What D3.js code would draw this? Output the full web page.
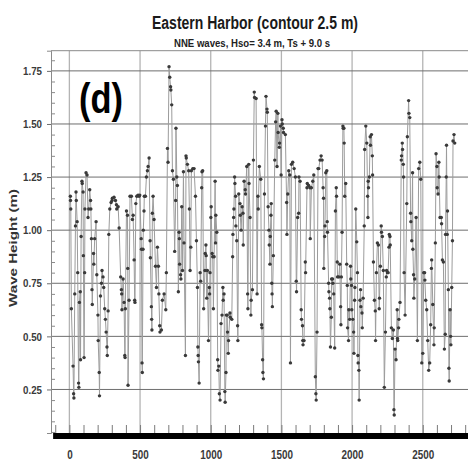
<!DOCTYPE html>
<html>
<head>
<meta charset="utf-8">
<script src="https://cdn.jsdelivr.net/npm/d3@7/dist/d3.min.js"></script>
<style>
  body { margin: 0; background: #fff; }
  #chart text { font-family: "Liberation Sans", Arial, sans-serif; }
</style>
</head>
<body>
<div id="chart"></div>
<script>
// labels
const titleText = 'Eastern Harbor (contour 2.5 m)';
const subtitleText = 'NNE waves, Hso= 3.4 m, Ts + 9.0 s';
const panelTag = '(d)';
const yLabel = 'Wave Height (m)';
const xTickValues = [0, 500, 1000, 1500, 2000, 2500];
const yTickValues = [0.25, 0.5, 0.75, 1.0, 1.25, 1.5, 1.75];

// series (time, wave height in m)
const timesA = [7,8,10,14,26,30,32,38,43,47,49,55,59,65,67,71,77,79,83,89,91,97,99,104,108,110,118,125,132,137,144,150,152,156,160,162,171,173,179,189,194,202,204,211,213,220,227,231,238,243,250,255,260,266,268,274,279,286,295];
const heightsA = [1.16,1.14,1.10,0.63,0.36,0.23,0.21,0.70,1.02,1.18,1.14,1.04,0.80,0.28,0.26,0.66,0.71,0.39,0.97,1.23,1.22,1.18,0.88,0.40,0.80,1.10,1.27,1.26,1.06,1.10,1.19,1.14,1.10,0.96,0.72,0.65,0.89,0.84,0.96,1.04,0.79,0.60,0.48,0.33,0.22,0.69,0.75,0.81,0.78,0.73,0.63,0.58,0.52,0.45,0.41,0.62,0.98,1.10,1.13];

const timesB = [302,304,316,326,333,335,345,352,363,368,370,372,380,387,392,394,396,404,411,413,415,422,429,439,446,451,458,462,464,470,477,486,493,498,508,510,514,516,521,523,528,530,538,545,552,557,564,571,573,580,582,584,587,592,599,609,616,623];
const heightsB = [1.14,1.15,1.155,1.14,1.12,1.10,1.11,1.01,0.78,0.72,0.70,0.625,0.77,0.66,0.41,0.40,0.63,1.09,1.07,0.82,0.27,0.67,1.16,1.16,1.05,1.07,0.86,0.67,0.66,1.125,1.16,1.165,1.16,1.165,0.96,0.91,0.375,0.33,0.91,1.0,1.09,1.16,1.16,1.25,1.28,1.30,1.34,0.95,0.87,0.64,0.58,0.53,1.08,1.16,1.05,0.83,0.73,0.92];

const timesC = [630,633,639,641,651,658,670,682,686,694,698,705,710,716,718,724,729,736,745,752,754,760,764,771,776,778,780,787,789,795,800,807,811,821,825,827,835,844,849,854,859,863,873,882,892,899,906,909,911,913,918,925,929,936,938,943,950];
const heightsC = [0.83,0.70,0.55,0.52,0.53,0.67,0.70,0.625,0.80,1.385,1.32,1.77,1.72,1.675,1.66,1.59,1.28,1.24,0.90,1.14,1.48,1.25,1.21,0.71,0.99,0.96,0.84,0.79,0.77,1.11,0.81,1.275,0.94,0.41,1.35,1.34,1.31,1.28,1.10,0.81,0.92,1.28,1.29,1.29,1.16,0.95,0.73,0.45,0.41,0.38,0.28,0.80,0.76,1.20,1.275,1.28,0.63];

const timesD = [959,961,966,968,972,976,984,990,992,995,1001,1003,1010,1014,1019,1024,1031,1034,1036,1043,1049,1051,1057,1061,1066,1073,1080,1086,1088,1094,1100,1102,1108,1110,1117,1119,1124,1126,1136,1138,1149,1155,1157,1162,1164,1169,1171,1176,1178,1184,1190,1192,1198,1207,1209,1215,1222,1228,1230,1236,1244,1246,1255,1261,1263,1269];
const heightsD = [0.81,0.89,0.93,0.88,0.68,0.81,0.48,0.73,0.70,0.80,1.06,1.11,0.89,0.875,0.63,0.875,1.23,0.94,1.07,0.99,0.39,0.34,0.36,0.23,0.20,0.56,0.60,0.73,0.67,0.70,0.24,0.19,0.33,0.60,0.60,0.52,0.42,0.48,0.61,0.59,0.58,0.875,0.98,1.06,1.10,1.25,1.22,1.16,1.02,0.95,0.55,0.48,1.17,1.125,1.07,1.0,1.11,1.08,0.93,1.23,1.19,1.17,1.30,0.70,0.63,1.31];

const timesE = [1271,1278,1284,1286,1295,1302,1308,1310,1321,1328,1334,1336,1344,1354,1360,1362,1367,1369,1373,1380,1387,1391,1398,1400,1406,1412,1414,1419,1421,1426,1428,1432,1434,1436,1443,1453,1459,1463,1469,1475,1477,1485,1487,1493,1498,1504,1506,1513,1515,1528,1537,1539,1545,1552,1559,1564,1571,1580,1590];
const heightsE = [1.22,1.06,0.60,0.67,0.72,1.33,1.65,1.625,1.62,0.70,1.16,1.10,1.30,1.24,0.555,0.54,0.39,0.33,0.30,1.17,1.49,1.63,1.57,1.555,1.11,1.0,0.93,0.84,0.97,1.07,1.125,0.75,0.70,0.64,0.88,1.33,1.51,1.56,1.30,1.55,1.46,1.39,1.41,1.49,1.26,1.52,1.50,1.48,1.46,1.45,1.13,0.98,1.17,1.28,1.26,0.375,1.31,1.32,1.29];

const timesF = [1599,1605,1607,1615,1622,1624,1632,1640,1642,1649,1651,1653,1660,1669,1671,1681,1683,1693,1702,1704,1712,1722,1729,1740,1744,1746,1752,1759,1764,1773,1781,1788,1795,1798,1800,1806,1808,1814,1821,1824,1826,1834,1836,1841,1843,1847,1853,1855,1862,1864,1870,1877,1882,1888,1890,1895,1897,1906,1913,1919,1921,1924];
const heightsF = [1.25,0.76,0.71,1.06,1.08,1.25,1.23,0.625,0.58,0.55,0.48,0.46,0.48,0.85,0.80,1.20,1.22,1.21,1.20,0.96,1.20,1.23,1.26,0.31,0.23,0.20,0.52,1.29,1.29,1.33,1.35,1.33,1.20,1.15,0.82,0.97,1.02,1.27,1.28,1.04,0.99,0.75,0.71,0.68,0.63,0.45,0.59,0.77,0.77,0.75,0.70,0.445,1.09,1.20,1.16,0.85,0.78,0.78,0.84,0.64,0.555,0.78];

const timesG = [1929,1935,1937,1942,1944,1948,1955,1962,1966,1968,1975,1977,1983,1989,1991,1996,1998,2005,2011,2013,2018,2020,2026,2033,2038,2041,2043,2048,2050,2056,2060,2062,2070,2072,2078,2086,2089,2097,2104,2110,2112,2114,2116,2122,2128,2130,2137,2143,2145,2151,2158,2164,2166,2172,2179,2186,2192,2194,2200,2206,2208,2214,2221,2228,2236,2242,2244,2250];
const heightsG = [0.99,1.49,1.48,1.48,1.41,1.16,1.22,0.84,0.74,0.54,0.48,0.625,0.58,0.83,0.77,0.74,0.625,0.58,0.52,0.42,0.67,0.73,1.10,0.945,0.80,0.41,0.375,0.34,0.20,0.67,0.72,0.64,0.61,0.54,0.68,1.02,1.38,1.49,1.41,1.16,1.06,1.23,1.20,1.25,1.44,1.40,1.45,1.35,1.26,0.85,0.67,0.62,0.48,0.80,0.94,0.93,0.63,0.68,0.83,1.02,0.99,0.97,0.81,0.26,0.52,0.78,0.81,0.80];

const timesH = [2255,2261,2263,2268,2270,2278,2285,2292,2296,2298,2304,2311,2319,2321,2323,2329,2331,2339,2348,2350,2355,2357,2362,2364,2368,2375,2387,2391,2400,2402,2408,2414,2416,2422,2428,2430,2435,2437,2443,2453,2462,2471,2479,2486,2493,2500,2507,2513,2515,2521,2528,2535,2542];
const heightsH = [0.80,0.92,0.98,0.97,0.93,0.54,0.49,0.53,0.155,0.13,0.44,0.39,0.625,0.49,0.48,0.54,0.58,0.66,1.33,1.35,1.41,1.38,1.31,1.25,0.80,0.60,1.125,1.44,1.61,1.55,1.53,1.08,1.04,0.95,1.27,0.91,0.79,0.68,0.77,1.06,0.48,1.29,1.32,1.24,0.375,0.42,0.80,0.80,0.765,0.67,0.625,0.48,0.34];

const timesI = [2549,2556,2561,2563,2571,2579,2581,2589,2594,2600,2602,2608,2614,2616,2622,2631,2633,2639,2646,2653,2659,2661,2666,2668,2673,2675,2681,2685,2687,2693,2697,2699,2705,2710,2714,2721,2726];
const heightsI = [0.375,0.555,0.82,0.86,0.65,0.46,0.54,0.94,1.36,1.30,1.20,1.17,1.32,1.25,1.06,1.06,1.03,0.86,0.85,0.44,0.51,0.98,1.25,1.40,0.98,1.09,0.72,0.35,0.29,0.625,0.50,0.46,0.73,0.95,1.42,1.45,1.41];

const blocks = [
  [timesA, heightsA], [timesB, heightsB], [timesC, heightsC],
  [timesD, heightsD], [timesE, heightsE], [timesF, heightsF],
  [timesG, heightsG], [timesH, heightsH], [timesI, heightsI]
];
const series = blocks.flatMap(([t, h]) => d3.zip(t, h));

// setup
const width = 468, height = 461;
const plot = { left: 51, right: 468, top: 50.7, bottom: 433 };

const xScale = d3.scaleLinear()
  .domain([-130, 2820])
  .range([plot.left, plot.right]);

const yScale = d3.scaleLinear()
  .domain([0.045, 1.845])
  .range([plot.bottom, plot.top]);

const svg = d3.select('#chart').append('svg')
  .attr('width', width)
  .attr('height', height);

svg.append('defs').append('clipPath')
  .attr('id', 'plotClip')
  .append('rect')
    .attr('x', plot.left)
    .attr('y', plot.top)
    .attr('width', plot.right - plot.left)
    .attr('height', plot.bottom - plot.top);

// narrow-looking labels: squeeze text to the width seen in the picture
const labelWidth = s => s.replace(/[^0-9]/g, '').length * 5.5 + (s.includes('.') ? 2.5 : 0);

// vertical grid
svg.append('g')
  .selectAll('line')
  .data(xTickValues)
  .join('line')
    .attr('x1', d => xScale(d))
    .attr('x2', d => xScale(d))
    .attr('y1', plot.top)
    .attr('y2', plot.bottom)
    .attr('stroke', '#b4b4b4')
    .attr('stroke-width', 1.3);

// horizontal grid
svg.append('g')
  .selectAll('line')
  .data(yTickValues)
  .join('line')
    .attr('x1', plot.left)
    .attr('x2', plot.right)
    .attr('y1', d => yScale(d))
    .attr('y2', d => yScale(d))
    .attr('stroke', '#6e6e6e')
    .attr('stroke-width', 1);

// top frame line
svg.append('line')
  .attr('x1', plot.left).attr('x2', plot.right)
  .attr('y1', plot.top).attr('y2', plot.top)
  .attr('stroke', '#8a8a8a');

// y-axis (major ticks outward, minor ticks inward)
const yAxis = d3.axisLeft(yScale)
  .tickValues(yTickValues)
  .tickSize(4)
  .tickPadding(5)
  .tickFormat(d3.format('.2f'));

const yAxisG = svg.append('g')
  .attr('transform', `translate(${ plot.left }, 0)`)
  .call(yAxis);
yAxisG.select('.domain').attr('stroke', '#8a8a8a');
yAxisG.selectAll('.tick line').attr('stroke', '#6e6e6e');
yAxisG.selectAll('.tick text')
  .attr('font-size', 11.5)
  .attr('font-weight', 'bold')
  .attr('fill', '#3a3a3a')
  .attr('textLength', d => labelWidth(d3.format('.2f')(d)))
  .attr('lengthAdjust', 'spacingAndGlyphs');

const yMinor = d3.range(0.05, 1.81, 0.05).filter(v => Math.abs(v / 0.25 - Math.round(v / 0.25)) > 1e-6);
svg.append('g')
  .attr('transform', `translate(${ plot.left }, 0)`)
  .call(d3.axisRight(yScale).tickValues(yMinor).tickSize(4).tickFormat(''))
  .call(g => g.select('.domain').remove())
  .selectAll('.tick line').attr('stroke', '#8a8a8a');

// line + markers
const line = d3.line()
  .x(d => xScale(d[0]))
  .y(d => yScale(d[1]));

const plotG = svg.append('g').attr('clip-path', 'url(#plotClip)');

plotG.append('path')
  .datum(series)
  .attr('d', line)
  .attr('fill', 'none')
  .attr('stroke', '#9c9c9c')
  .attr('stroke-width', 1);

plotG.selectAll('.pt')
  .data(series)
  .join('circle')
    .attr('class', 'pt')
    .attr('cx', d => xScale(d[0]))
    .attr('cy', d => yScale(d[1]))
    .attr('r', 1.7)
    .attr('fill', '#3a3a3a');

// bottom: minor ticks rising from a thick black bar
svg.append('g')
  .attr('transform', `translate(0, ${ plot.bottom })`)
  .call(d3.axisTop(xScale).tickValues(d3.range(-100, 2801, 100)).tickSize(8).tickFormat(''))
  .call(g => g.select('.domain').remove())
  .selectAll('.tick line').attr('stroke', '#7a7a7a');

svg.append('rect')
  .attr('x', xScale(-115))
  .attr('y', plot.bottom)
  .attr('width', plot.right - xScale(-115))
  .attr('height', 6)
  .attr('fill', '#000');

const xAxis = d3.axisBottom(xScale)
  .tickValues(xTickValues)
  .tickSize(0)
  .tickPadding(11)
  .tickFormat(d3.format('d'));

const xAxisG = svg.append('g')
  .attr('transform', `translate(0, ${ plot.bottom + 6 })`)
  .call(xAxis);
xAxisG.select('.domain').remove();
xAxisG.selectAll('.tick text')
  .attr('font-size', 12)
  .attr('font-weight', 'bold')
  .attr('fill', '#3a3a3a')
  .attr('textLength', d => labelWidth(String(d)))
  .attr('lengthAdjust', 'spacingAndGlyphs');

// titles and labels
svg.append('text')
  .attr('x', 255).attr('y', 29)
  .attr('text-anchor', 'middle')
  .attr('font-size', 18)
  .attr('font-weight', 'bold')
  .attr('fill', '#1a1a1a')
  .attr('textLength', 206)
  .attr('lengthAdjust', 'spacingAndGlyphs')
  .text(titleText);

svg.append('text')
  .attr('x', 252).attr('y', 47)
  .attr('text-anchor', 'middle')
  .attr('font-size', 10.5)
  .attr('font-weight', 'bold')
  .attr('fill', '#222')
  .attr('textLength', 156)
  .attr('lengthAdjust', 'spacingAndGlyphs')
  .text(subtitleText);

svg.append('text')
  .attr('x', 79).attr('y', 113)
  .attr('font-size', 42)
  .attr('font-weight', 'bold')
  .attr('fill', '#000')
  .attr('textLength', 44)
  .attr('lengthAdjust', 'spacingAndGlyphs')
  .text(panelTag);

svg.append('text')
  .attr('transform', 'translate(17, 248) rotate(-90)')
  .attr('text-anchor', 'middle')
  .attr('font-size', 11.5)
  .attr('font-weight', 'bold')
  .attr('fill', '#333')
  .attr('textLength', 118)
  .attr('lengthAdjust', 'spacingAndGlyphs')
  .text(yLabel);
</script>
</body>
</html>
